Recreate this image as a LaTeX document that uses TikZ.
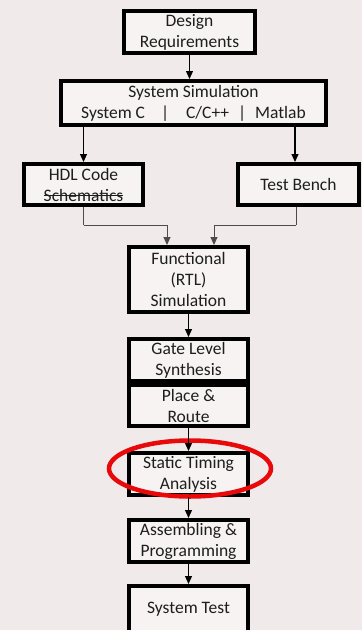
\documentclass[tikz,border=0pt]{standalone}
\usepackage{fontspec}
\setmainfont{Carlito}
\usetikzlibrary{arrows.meta,shapes.geometric}
\definecolor{bgc}{RGB}{240,235,234}
\definecolor{txt}{RGB}{30,30,30}
\definecolor{ovalred}{RGB}{232,10,10}
\newcommand\mystrike[1]{\setbox0\hbox{#1}\rlap{\rule[0.27em]{\wd0}{0.8pt}}\box0}
\begin{document}
\begin{tikzpicture}[x=1pt,y=-1pt,
  flowbox/.style={draw=black,line width=4pt,fill=bgc!60!white,inner sep=0pt,
    align=center,text=txt,font=\fontsize{17.5}{21}\selectfont},
  arr/.style={draw=black,line width=1.2pt,-{Triangle[width=7pt,length=8pt]}},
  merge/.style={draw=black!70,line width=1pt},
  marr/.style={draw=black!70,line width=1pt,-{Triangle[width=7pt,length=8pt]}}]
\useasboundingbox[fill=bgc] (0,0) rectangle (362,630);
\node[flowbox,minimum width=131pt,minimum height=42pt] (dr) at (189.5,32) {Design\\Requirements};
\node[flowbox,minimum width=265pt,minimum height=44pt] (ss) at (193.5,103)
  {System Simulation\\System C\hspace{16pt}|\hspace{17pt}C/C++\hspace{9pt}|\hspace{9pt}Matlab};
\node[flowbox,minimum width=119pt,minimum height=41pt] (hdl) at (83.5,184.5) {HDL Code\\\mystrike{Schematics}};
\node[flowbox,minimum width=121pt,minimum height=41pt] (tb) at (298.5,184.5) {Test Bench};
\node[flowbox,minimum width=119pt,minimum height=65pt] (fn) at (188.5,279.5) {Functional\\(RTL)\\Simulation};
\node[flowbox,minimum width=119pt,minimum height=42pt] (gls) at (188.5,360) {Gate Level\\Synthesis};
\node[flowbox,minimum width=119pt,minimum height=41pt] (pr) at (188.5,405.5) {Place \&\\Route};
\node[flowbox,minimum width=119pt,minimum height=42pt] (sta) at (188.5,474) {Static Timing\\Analysis};
\node[flowbox,minimum width=119pt,minimum height=42pt] (ap) at (188.5,541) {Assembling \&\\Programming};
\node[flowbox,minimum width=119pt,minimum height=46pt] (st) at (188.5,609) {System Test};
\node[draw=ovalred,line width=4.5pt,ellipse,minimum width=162pt,minimum height=56pt,inner sep=0pt] (oval) at (190,468.5) {};
\draw[arr] (dr.south) -- (dr.south |- ss.north);
\draw[arr] (hdl.north |- ss.south) -- (hdl.north);
\draw[arr] ([xshift=-3.5pt]tb.north |- ss.south) -- ([xshift=-3.5pt]tb.north);
\coordinate (jl) at ([yshift=-18pt]hdl.south);
\coordinate (jr) at ([xshift=-2.5pt,yshift=-18pt]tb.south);
\draw[merge] (hdl.south) -- (jl);
\draw[marr] (jl) -| ([xshift=-21.5pt]fn.north);
\draw[merge] ([xshift=-2.5pt]tb.south) -- (jr);
\draw[marr] (jr) -| ([xshift=25.5pt]fn.north);
\draw[arr] (fn.south) -- (gls.north);
\draw[arr] (pr.south) -- (sta.north);
\draw[arr] (sta.south) -- (ap.north);
\draw[arr] (ap.south) -- (st.north);
\end{tikzpicture}
\end{document}
